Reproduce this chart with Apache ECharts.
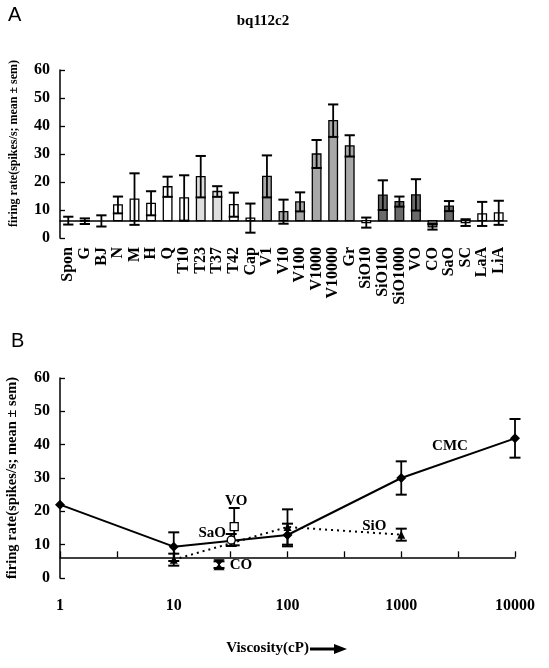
<!DOCTYPE html>
<html><head><meta charset="utf-8">
<script src="https://cdn.jsdelivr.net/npm/echarts@6/dist/echarts.min.js"></script>
<style>html,body{margin:0;padding:0;background:#fff}#c{width:549px;height:668px}</style>
</head><body><div id="c"></div>
<script>
// ---- Panel A data ----
const categories = ['Spon','G','BJ','N','M','H','Q','T10','T23','T37','T42','Cap','V1','V10','V100','V1000','V10000','Gr','SiO10','SiO100','SiO1000','VO','CO','SaO','SC','LaA','LiA'];
const meanRate = [6.2,6.0,6.1,11.8,13.9,12.4,18.3,14.3,21.9,16.6,11.9,7.1,22.0,9.4,12.9,30.0,41.9,32.9,5.5,15.3,13.0,15.4,4.0,11.4,5.5,8.6,9.0];
const semRate  = [1.4,1.0,2.0,3.0,9.2,4.3,3.6,8.1,7.4,1.9,4.3,5.2,7.5,4.3,3.4,5.0,5.8,3.8,1.8,5.3,1.8,5.6,1.0,1.8,1.2,4.3,4.3];
const yTickValues = [0,10,20,30,40,50,60];
// ---- Panel B data ----
const viscosityTicks = [1,10,100,1000,10000];
const cmcVisc = [1,10,100,1000,10000];
const cmcMean = [22.0,9.4,12.9,30.0,41.9];
const cmcSem  = [0,4.3,3.4,5.0,5.8];
const sioVisc = [10,100,1000];
const sioMean = [5.5,15.3,13.0];
const sioSem  = [1.8,5.3,1.8];
const voVisc = [34], voMean = [15.4], voSem = [5.6];
const saoVisc = [32], saoMean = [11.4], saoSem = [1.8];
const coVisc = [25], coMean = [4.0], coSem = [1.0];

// styles (kept separate from data)
const W='#ffffff', L='#dedede', M='#a8a8a8', D='#6a6a6a';
const barFill = [W,W,W,W,W,W,W,W,L,L,W,W,M,M,M,M,M,M,W,D,D,D,D,D,W,W,W];
const sponLevel = meanRate[0];
const FONT = 'Liberation Serif';
const lg = v => Math.log10(v);

const chart = echarts.init(document.getElementById('c'), null, {renderer:'canvas'});

function errGroup(api, x, m, s, cw) {
  const hi = api.coord([x, m + s]), lo = api.coord([x, m - s]);
  const px = hi[0];
  return [
    {type:'line', shape:{x1:px,y1:hi[1],x2:px,y2:lo[1]}, style:{stroke:'#000',lineWidth:1.8}},
    {type:'line', shape:{x1:px-cw/2,y1:hi[1],x2:px+cw/2,y2:hi[1]}, style:{stroke:'#000',lineWidth:2}},
    {type:'line', shape:{x1:px-cw/2,y1:lo[1],x2:px+cw/2,y2:lo[1]}, style:{stroke:'#000',lineWidth:2}}
  ];
}

function renderBar(params, api) {
  const i = api.value(0), m = api.value(1), s = api.value(2);
  const base = api.coord([i, sponLevel]);
  const top = api.coord([i, m]);
  const band = api.size([1, 0])[0];
  const bw = band * 0.52;
  const y0 = Math.min(base[1], top[1]), h = Math.abs(base[1] - top[1]);
  const children = [];
  if (h > 0.5) children.push({type:'rect', shape:{x:base[0]-bw/2, y:y0, width:bw, height:h},
    style:{fill:barFill[i], stroke:'#000', lineWidth:1.3}});
  return {type:'group', children: children.concat(errGroup(api, i, m, s, band*0.62))};
}
function renderErr(params, api) {
  const x = api.value(0), m = api.value(1), s = api.value(2);
  if (!s) return {type:'group', children:[]};
  return {type:'group', children: errGroup(api, x, m, s, 11)};
}
const lblStyle = {show:true, color:'#000', fontFamily:FONT, fontWeight:'bold', fontSize:15, position:'inside',
  textBorderWidth:0, textBorderColor:'transparent', opacity:1};
const errSeries = (vis, mean, sem) => ({type:'custom', xAxisIndex:1, yAxisIndex:2, renderItem:renderErr, clip:false, z:3,
  data: vis.map((v,k)=>[lg(v), mean[k], sem[k]])});

const option = {
  animation:false,
  backgroundColor:'#fff',
  graphic:[
    {type:'text', left:8, top:5, style:{text:'A', fontFamily:'Liberation Sans', fontSize:20, fill:'#000'}},
    {type:'text', left:11, top:331, style:{text:'B', fontFamily:'Liberation Sans', fontSize:20, fill:'#000'}},
    {type:'text', x:263, y:21, style:{text:'bq112c2', fontFamily:FONT, fontWeight:'bold', fontSize:15, fill:'#000', align:'center', verticalAlign:'middle'}},
    {type:'group', children:[
      {type:'line', shape:{x1:310,y1:649,x2:337,y2:649}, style:{stroke:'#000', lineWidth:3}},
      {type:'polygon', shape:{points:[[334,644],[347,649],[334,654]]}, style:{fill:'#000'}}
    ]}
  ],
  grid:[
    {left:60, right:42, top:70, bottom:430, outerBoundsMode:'none', containLabel:false},
    {left:60, right:34, top:378, bottom:90, outerBoundsMode:'none', containLabel:false}
  ],
  xAxis:[
    {type:'category', gridIndex:0, data:categories,
     axisLine:{onZero:true, onZeroAxisIndex:1, lineStyle:{color:'#000', width:1.5}},
     axisTick:{inside:true, length:5, interval:0, lineStyle:{color:'#000', width:1.3}},
     axisLabel:{rotate:90, interval:0, margin:9, color:'#000', fontFamily:FONT, fontWeight:'bold', fontSize:16},
     splitLine:{show:false}},
    {type:'value', gridIndex:1, min:0, max:4, interval:0.5,
     axisLine:{onZero:true, onZeroAxisIndex:3, lineStyle:{color:'#000', width:1.5}},
     axisTick:{inside:true, length:6, lineStyle:{color:'#000', width:1.3}},
     axisLabel:{margin:20, color:'#000', fontFamily:FONT, fontWeight:'bold', fontSize:16,
       formatter: v => Math.abs(v - Math.round(v)) < 1e-9 ? String(viscosityTicks[Math.round(v)]) : ''},
     splitLine:{show:false},
     name:'Viscosity(cP)', nameLocation:'middle', nameGap:63, nameMoveOverlap:false,
     nameTextStyle:{color:'#000', fontFamily:FONT, fontWeight:'bold', fontSize:15, padding:[0,40,0,0]}}
  ],
  yAxis:[
    {type:'value', gridIndex:0, min:yTickValues[0], max:yTickValues[yTickValues.length-1], interval:10,
     axisLine:{show:true, onZero:false, lineStyle:{color:'#000', width:1.5}},
     axisTick:{show:true, inside:true, length:5, lineStyle:{color:'#000', width:1.3}},
     axisLabel:{margin:10, color:'#000', fontFamily:FONT, fontWeight:'bold', fontSize:16},
     splitLine:{show:false},
     name:'firing rate(spikes/s; mean \u00b1 sem)', nameLocation:'middle', nameGap:40, nameMoveOverlap:false,
     nameTextStyle:{color:'#000', fontFamily:FONT, fontWeight:'bold', fontSize:12, padding:[0,0,0,21]}},
    {type:'value', gridIndex:0, min:-sponLevel, max:60-sponLevel, show:false},
    {type:'value', gridIndex:1, min:yTickValues[0], max:yTickValues[yTickValues.length-1], interval:10,
     axisLine:{show:true, onZero:false, lineStyle:{color:'#000', width:1.5}},
     axisTick:{show:true, inside:true, length:5, lineStyle:{color:'#000', width:1.3}},
     axisLabel:{margin:10, color:'#000', fontFamily:FONT, fontWeight:'bold', fontSize:16},
     splitLine:{show:false},
     name:'firing rate(spikes/s; mean \u00b1 sem)', nameLocation:'middle', nameGap:40, nameMoveOverlap:false,
     nameTextStyle:{color:'#000', fontFamily:FONT, fontWeight:'bold', fontSize:14.5}},
    {type:'value', gridIndex:1, min:-sponLevel, max:60-sponLevel, show:false}
  ],
  series:[
    {type:'custom', xAxisIndex:0, yAxisIndex:0, renderItem:renderBar, clip:false,
     encode:{x:0, y:1},
     data: categories.map((c,i)=>[i, meanRate[i], semRate[i]])},
    errSeries(cmcVisc, cmcMean, cmcSem),
    errSeries(sioVisc, sioMean, sioSem),
    errSeries(voVisc, voMean, voSem),
    errSeries(saoVisc, saoMean, saoSem),
    errSeries(coVisc, coMean, coSem),
    {type:'line', name:'CMC', xAxisIndex:1, yAxisIndex:2, z:4,
     data: cmcVisc.map((v,k)=>{
       const d = {value:[lg(v), cmcMean[k]]};
       if (k === cmcVisc.length-1) d.label = Object.assign({}, lblStyle, {formatter:'CMC', offset:[-65,8]});
       return d;}),
     symbol:'diamond', symbolSize:10, itemStyle:{color:'#000'},
     lineStyle:{color:'#000', width:2}},
    {type:'line', name:'SiO', xAxisIndex:1, yAxisIndex:2, z:4,
     data: sioVisc.map((v,k)=>{
       const d = {value:[lg(v), sioMean[k]]};
       if (k === sioVisc.length-1) d.label = Object.assign({}, lblStyle, {formatter:'SiO', offset:[-27,-9]});
       return d;}),
     symbol:'triangle', symbolSize:8, itemStyle:{color:'#000'},
     lineStyle:{color:'#000', width:2, type:[2,4]}},
    {type:'scatter', name:'VO', xAxisIndex:1, yAxisIndex:2, z:5,
     data: voVisc.map((v,k)=>[lg(v), voMean[k]]),
     symbol:'rect', symbolSize:8, itemStyle:{color:'#fff', borderColor:'#000', borderWidth:1.3, opacity:1},
     label:Object.assign({}, lblStyle, {formatter:'VO', offset:[2,-26]})},
    {type:'scatter', name:'SaO', xAxisIndex:1, yAxisIndex:2, z:5,
     data: saoVisc.map((v,k)=>[lg(v), saoMean[k]]),
     symbol:'circle', symbolSize:8, itemStyle:{color:'#fff', borderColor:'#000', borderWidth:1.3, opacity:1},
     label:Object.assign({}, lblStyle, {formatter:'SaO', offset:[-19,-7]})},
    {type:'scatter', name:'CO', xAxisIndex:1, yAxisIndex:2, z:5,
     data: coVisc.map((v,k)=>[lg(v), coMean[k]]),
     symbol:'path://M0,0 L10,0 L0,10 L10,10 Z', symbolSize:[9,10],
     itemStyle:{color:'#000', borderColor:'#000', borderWidth:1, opacity:1},
     label:Object.assign({}, lblStyle, {formatter:'CO', offset:[22,0]})}
  ]
};
chart.setOption(option);
</script>
</body></html>
